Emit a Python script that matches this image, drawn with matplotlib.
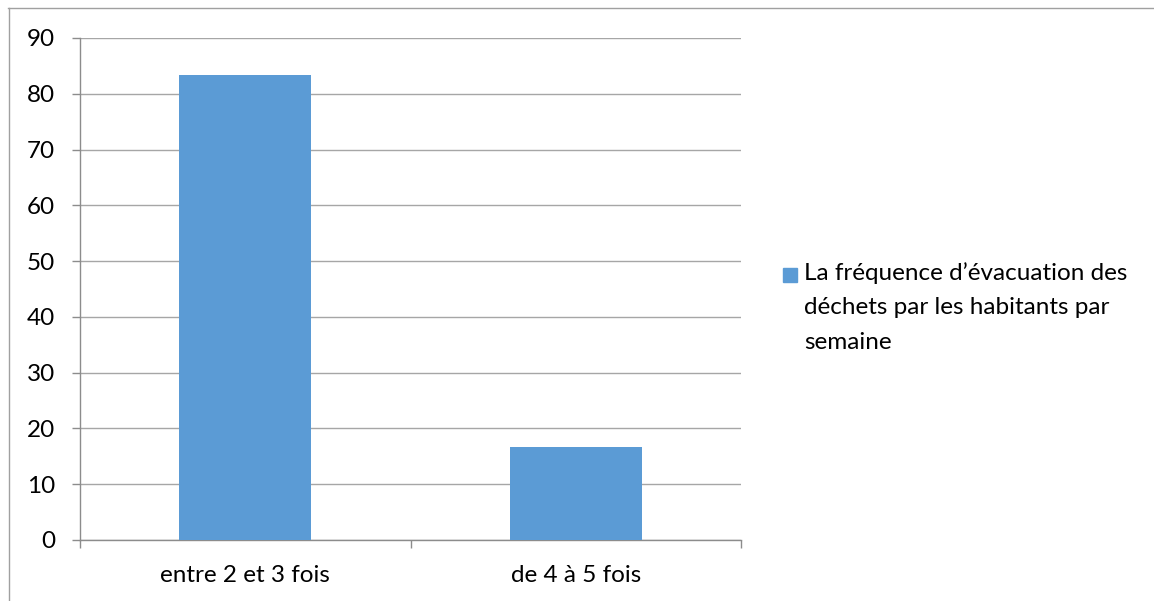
import matplotlib.pyplot as plt
from matplotlib.patches import Rectangle
from matplotlib.lines import Line2D

categories = ["entre 2 et 3 fois", "de 4 à 5 fois"]
values = [83.33, 16.67]
series_label = "La fréquence d’évacuation des\ndéchets par les habitants par\nsemaine"

BAR_COLOR = "#5B9BD5"
GRID_COLOR = "#A6A6A6"
AXIS_COLOR = "#8C8C8C"
FS = 17.5

plt.rcParams.update({
    "font.family": ["Lato", "DejaVu Sans"],
    "font.size": FS,
})

fig = plt.figure(figsize=(11.54, 6.01), dpi=100)
ax = fig.add_axes([80 / 1154, 1 - 540 / 601, 661 / 1154, 502 / 601])

x = list(range(len(categories)))
ax.bar(x, values, width=0.4, color=BAR_COLOR, zorder=3)

ax.set_xlim(-0.5, len(categories) - 0.5)
ax.set_ylim(0, 90)
ax.set_yticks(range(0, 91, 10))
ax.yaxis.grid(True, color=GRID_COLOR, linewidth=1)
ax.set_axisbelow(True)

ax.set_xticks(x)
ax.set_xticklabels(categories, fontsize=FS)
ax.tick_params(axis="x", length=0, pad=18)
ax.set_xticks([i - 0.5 for i in range(len(categories) + 1)], minor=True)
ax.tick_params(axis="x", which="minor", length=6, color=AXIS_COLOR, width=1)
ax.tick_params(axis="y", length=6, color=AXIS_COLOR, width=1, pad=12, labelsize=FS)

for side in ["top", "right"]:
    ax.spines[side].set_visible(False)
for side in ["left", "bottom"]:
    ax.spines[side].set_color(AXIS_COLOR)
    ax.spines[side].set_linewidth(1)

# legend drawn by hand so the marker sits on the first line
fig.patches.append(Rectangle((783 / 1154, 1 - 282 / 601), 14 / 1154, 14 / 601,
                             transform=fig.transFigure, color=BAR_COLOR))
fig.text(804 / 1154, 1 - 262 / 601, series_label, fontsize=FS, va="top",
         linespacing=1.8)

# outer frame lines (top and left)
fig.lines.append(Line2D([8 / 1154, 1], [1 - 8 / 601, 1 - 8 / 601],
                        transform=fig.transFigure, color="#A0A0A0", linewidth=1))
fig.lines.append(Line2D([9 / 1154, 9 / 1154], [0, 1 - 8 / 601],
                        transform=fig.transFigure, color="#A0A0A0", linewidth=1))

plt.savefig("out.png", dpi=100)
